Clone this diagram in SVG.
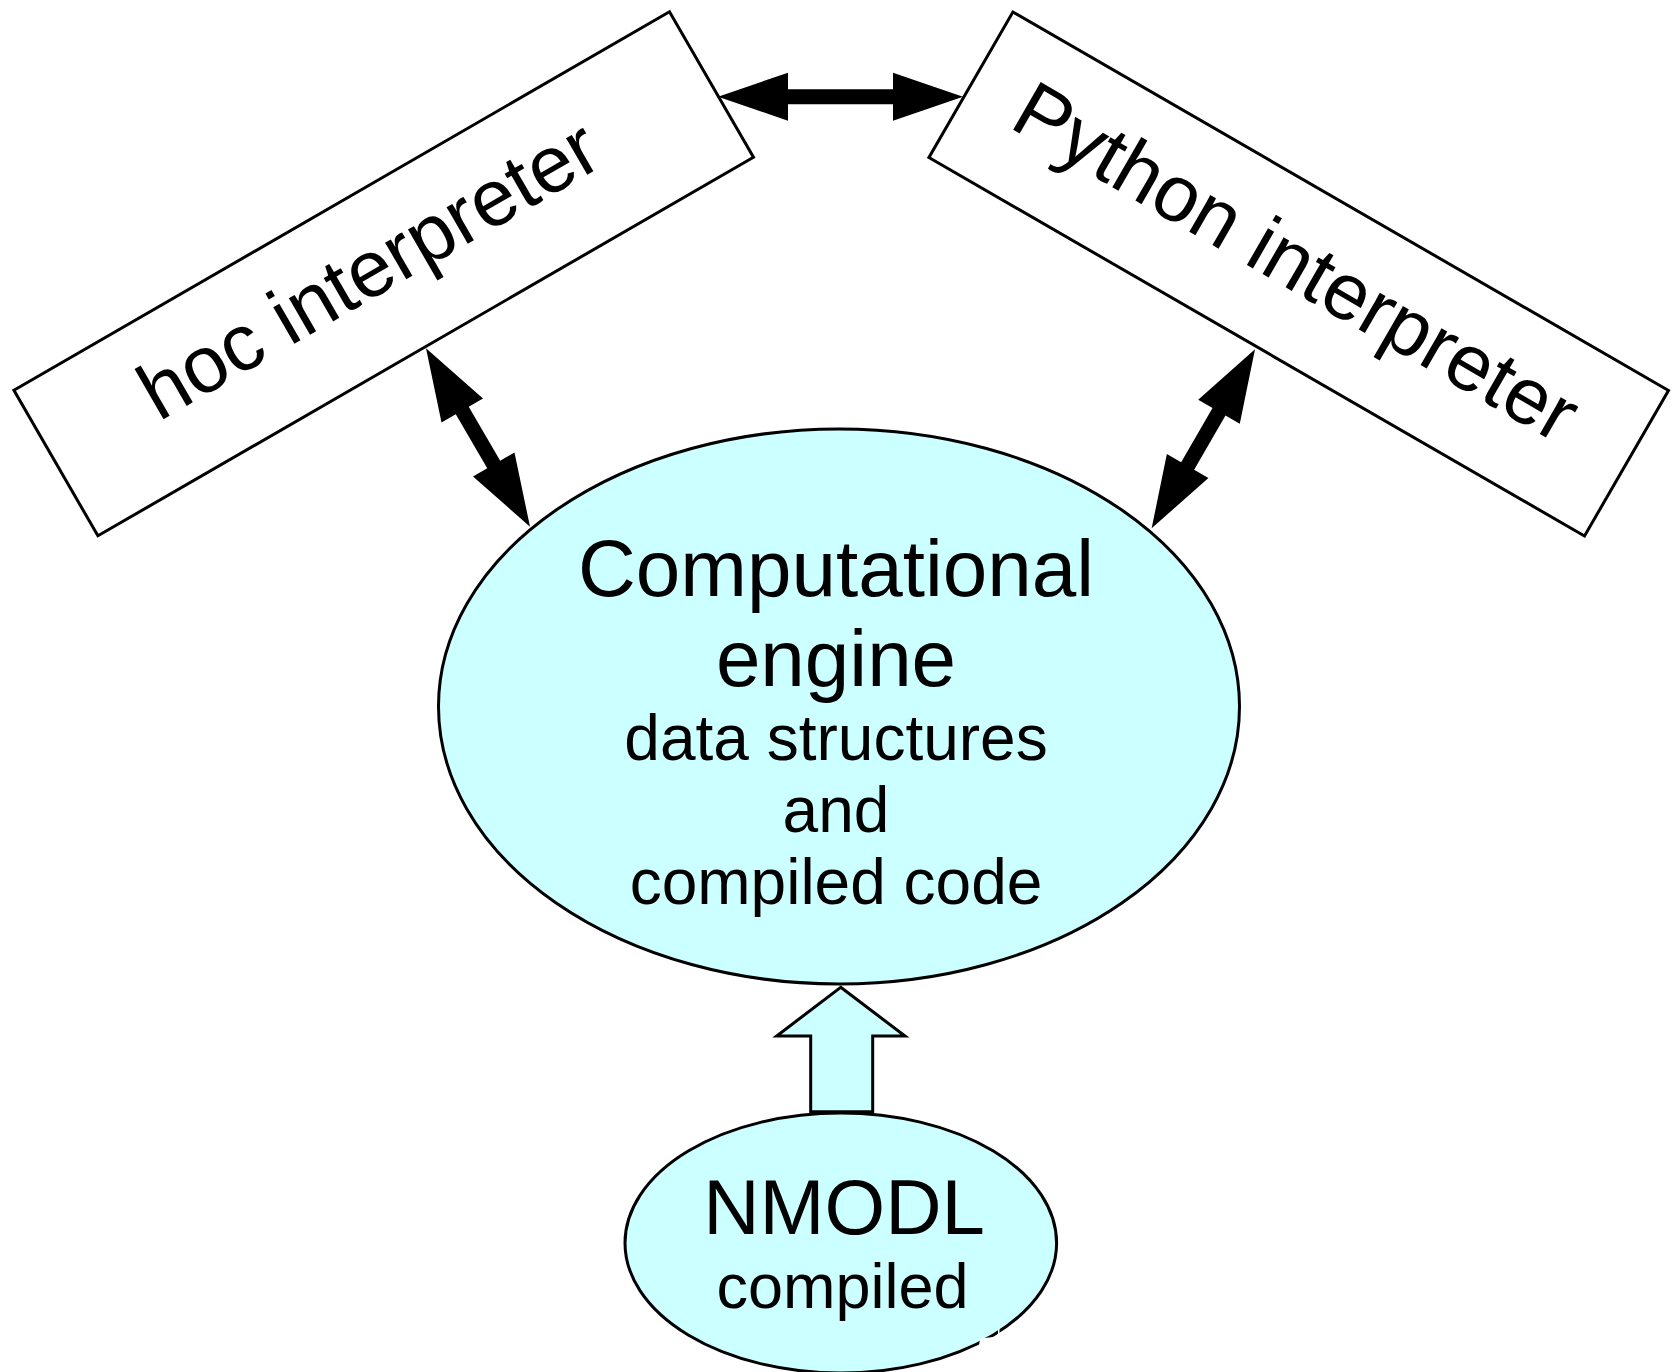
<svg xmlns="http://www.w3.org/2000/svg" width="1673" height="1372" viewBox="0 0 1673 1372">
<style>
  .box { fill: #ffffff; stroke: #000000; stroke-width: 3; }
  .ell { fill: #ccffff; stroke: #000000; stroke-width: 3; }
  .arr { fill: #000000; stroke: none; }
  .hollow { fill: #ccffff; stroke: #000000; stroke-width: 3; stroke-linejoin: miter; }
  text { font-family: "Liberation Sans", Arial, sans-serif; fill: #000000; text-anchor: middle; }
  .big { font-size: 80px; }
  .small { font-size: 64px; }
</style>
<rect x="0" y="0" width="1673" height="1372" fill="#ffffff"/>

<g id="hoc">
  <g transform="translate(383.7,273.8) rotate(-30)">
    <rect class="box" x="-378.5" y="-84" width="757" height="168"/>
    <text class="big" x="-11" y="16">hoc interpreter</text>
  </g>
</g>

<g id="python">
  <g transform="translate(1298.7,274) rotate(30)">
    <rect class="box" x="-378.5" y="-84" width="757" height="168"/>
    <text class="big" x="-8" y="18">Python interpreter</text>
  </g>
</g>

<g id="engine">
  <ellipse class="ell" cx="839" cy="706.5" rx="400.5" ry="277.5"/>
  <text class="big" x="836" y="596">Computational</text>
  <text class="big" x="836" y="686">engine</text>
  <text class="small" x="836" y="760">data structures</text>
  <text class="small" x="836" y="832">and</text>
  <text class="small" x="836" y="904">compiled code</text>
</g>

<g id="nmodl">
  <ellipse class="ell" cx="840.8" cy="1243" rx="215.8" ry="130"/>
  <text x="844" y="1234" style="font-size:78px">NMODL</text>
  <text x="842.5" y="1308" style="font-size:63px">compiled</text>
  <polygon points="980,1338.5 998,1336.5 998,1329 999.5,1329 999.5,1346 979,1346" fill="#ffffff"/>
</g>

<g id="connectors">
  <path class="arr" transform="translate(718,96.7)" d="M0,0 L70,-24 L70,-7.5 L175,-7.5 L175,-24 L245,0 L175,24 L175,7.5 L70,7.5 L70,24 Z"/>
  <path class="arr" transform="translate(426,348.3) rotate(59.76)" d="M0,0 L72,-24 L72,-7.5 L134.5,-7.5 L134.5,-24 L206.5,0 L134.5,24 L134.5,7.5 L72,7.5 L72,24 Z"/>
  <path class="arr" transform="translate(1255,349.3) rotate(120)" d="M0,0 L72,-24 L72,-7.5 L134.7,-7.5 L134.7,-24 L206.7,0 L134.7,24 L134.7,7.5 L72,7.5 L72,24 Z"/>
  <polygon class="hollow" points="840.7,987.3 905,1036 872.7,1036 872.7,1111.7 810.7,1111.7 810.7,1036 776.7,1036"/>
</g>
</svg>
